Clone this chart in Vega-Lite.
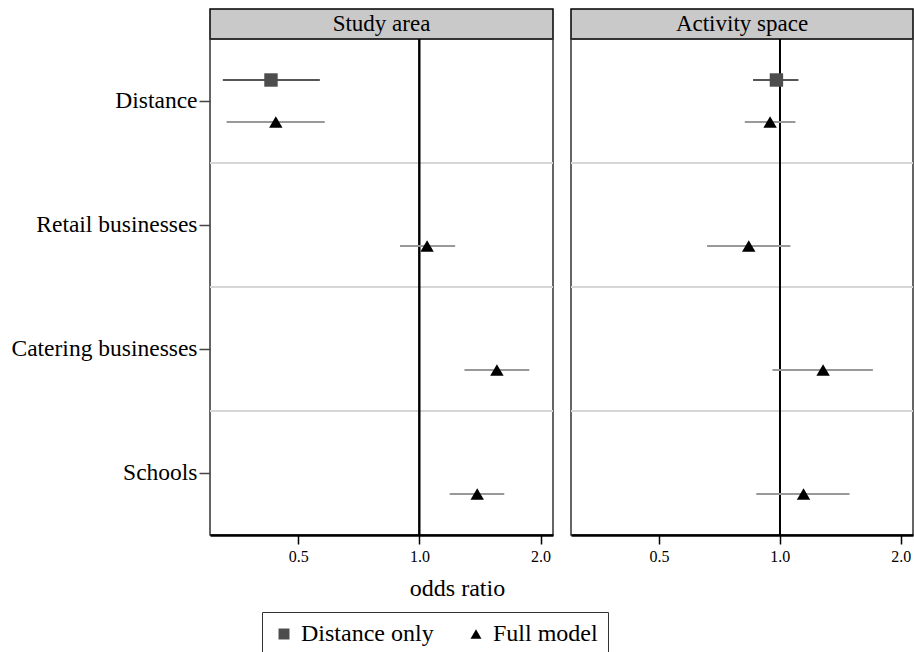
{
  "$schema": "https://vega.github.io/schema/vega-lite/v6.json",
  "background": "white",
  "padding": {"left": 10, "top": 8, "right": 0, "bottom": 0},
  "config": {
    "font": "Liberation Serif, Tinos, Times New Roman, serif",
    "view": {"stroke": "#333333", "strokeWidth": 1.5},
    "axis": {"labelFont": "Liberation Serif, Tinos, Times New Roman, serif", "titleFont": "Liberation Serif, Tinos, Times New Roman, serif", "labelColor": "black", "titleColor": "black"},
    "legend": {"labelFont": "Liberation Serif, Tinos, Times New Roman, serif"},
    "text": {"font": "Liberation Serif, Tinos, Times New Roman, serif"}
  },
  "datasets": {
    "est": [
      {"panel": "Study area", "cat": "Distance", "model": "Distance only", "or": 0.428, "lo": 0.325, "hi": 0.566},
      {"panel": "Study area", "cat": "Distance", "model": "Full model", "or": 0.44, "lo": 0.332, "hi": 0.582},
      {"panel": "Study area", "cat": "Retail businesses", "model": "Full model", "or": 1.045, "lo": 0.895, "hi": 1.227},
      {"panel": "Study area", "cat": "Catering businesses", "model": "Full model", "or": 1.558, "lo": 1.294, "hi": 1.875},
      {"panel": "Study area", "cat": "Schools", "model": "Full model", "or": 1.392, "lo": 1.189, "hi": 1.625},
      {"panel": "Activity space", "cat": "Distance", "model": "Distance only", "or": 0.981, "lo": 0.858, "hi": 1.113},
      {"panel": "Activity space", "cat": "Distance", "model": "Full model", "or": 0.946, "lo": 0.818, "hi": 1.094},
      {"panel": "Activity space", "cat": "Retail businesses", "model": "Full model", "or": 0.837, "lo": 0.659, "hi": 1.063},
      {"panel": "Activity space", "cat": "Catering businesses", "model": "Full model", "or": 1.282, "lo": 0.959, "hi": 1.706},
      {"panel": "Activity space", "cat": "Schools", "model": "Full model", "or": 1.146, "lo": 0.874, "hi": 1.492}
    ],
    "sep": [
      {"cat": "Retail businesses"},
      {"cat": "Catering businesses"},
      {"cat": "Schools"}
    ],
    "panels": [
      {"panel": "Study area"},
      {"panel": "Activity space"}
    ]
  },
  "columns": 2,
  "bounds": "flush",
  "spacing": {"row": 0, "column": 18},
  "resolve": {"scale": {"color": "shared", "shape": "shared"}},
  "concat": [
    {
      "width": 343, "height": 30,
      "view": {"fill": "#c9c9c9", "stroke": "black", "strokeWidth": 1.5},
      "data": {"name": "panels"},
      "transform": [{"filter": "datum.panel === 'Study area'"}],
      "mark": {"type": "text", "fontSize": 23, "color": "black", "font": "Liberation Serif, Tinos, Times New Roman, serif"},
      "encoding": {"text": {"field": "panel", "type": "nominal"}}
    },
    {
      "width": 342, "height": 30,
      "view": {"fill": "#c9c9c9", "stroke": "black", "strokeWidth": 1.5},
      "data": {"name": "panels"},
      "transform": [{"filter": "datum.panel === 'Activity space'"}],
      "mark": {"type": "text", "fontSize": 23, "color": "black", "font": "Liberation Serif, Tinos, Times New Roman, serif"},
      "encoding": {"text": {"field": "panel", "type": "nominal"}}
    },
    {
      "width": 343, "height": 496,
      "data": {"name": "est"},
      "transform": [{"filter": "datum.panel === 'Study area'"}],
      "layer": [
        {
          "data": {"name": "sep"},
          "transform": [],
          "mark": {"type": "rule", "color": "#d6d6d6", "strokeWidth": 2},
          "encoding": {"y": {"field": "cat", "type": "nominal", "bandPosition": 0, "scale": {"domain": ["Distance", "Retail businesses", "Catering businesses", "Schools"], "paddingInner": 0, "paddingOuter": 0},
            "axis": {"title": null, "labelFont": "Liberation Serif, Tinos, Times New Roman, serif", "labelFontSize": 23.5, "labelLimit": 400, "tickSize": 11, "tickColor": "#444", "tickWidth": 1.5, "labelPadding": 2, "domain": false, "grid": false, "bandPosition": 0.5}}}
        },
        {
          "mark": {"type": "rule", "color": "black", "strokeWidth": 1.5},
          "encoding": {"x": {"datum": 1, "type": "quantitative", "scale": {"type": "log", "domain": [0.302, 2.147], "nice": false, "zero": false},
            "axis": {"values": [0.5, 1, 2], "format": ".1f", "labelFont": "Liberation Serif, Tinos, Times New Roman, serif", "labelFontSize": 16, "tickSize": 9, "tickColor": "black", "tickWidth": 1.5, "domainColor": "black", "domainWidth": 2.5, "labelPadding": 4, "grid": false,
              "title": "odds ratio", "titleFont": "Liberation Serif, Tinos, Times New Roman, serif", "titleFontSize": 24, "titleFontWeight": "normal", "titlePadding": 12, "titleX": 247}}}
        },
        {
          "mark": {"type": "rule", "strokeWidth": 2},
          "encoding": {
            "x": {"field": "lo", "type": "quantitative"},
            "x2": {"field": "hi"},
            "y": {"field": "cat", "type": "nominal"},
            "yOffset": {"field": "model", "type": "nominal", "scale": {"type": "point", "domain": ["Distance only", "Full model"], "range": [41, 83], "padding": 0}},
            "color": {"condition": {"test": "datum.model === 'Full model'", "value": "#999999"}, "value": "#555555"}
          }
        },
        {
          "mark": {"type": "point", "filled": true, "opacity": 1, "size": 180},
          "encoding": {
            "x": {"field": "or", "type": "quantitative"},
            "y": {"field": "cat", "type": "nominal"},
            "yOffset": {"field": "model", "type": "nominal"},
            "shape": {"field": "model", "type": "nominal", "scale": {"domain": ["Distance only", "Full model"], "range": ["square", "triangle-up"]},
              "legend": {"title": null, "orient": "none", "legendX": 52, "legendY": 603, "direction": "horizontal", "columns": 2, "gridAlign": "all",
                "strokeColor": "#333", "padding": 10, "labelFont": "Liberation Serif, Tinos, Times New Roman, serif", "labelFontSize": 24, "labelColor": "black", "labelOffset": 5, "columnPadding": 30, "symbolSize": 120, "symbolStrokeWidth": 0}},
            "color": {"field": "model", "type": "nominal", "scale": {"domain": ["Distance only", "Full model"], "range": ["#4d4d4d", "#000000"]}}
          }
        }
      ]
    },
    {
      "width": 342, "height": 496,
      "data": {"name": "est"},
      "transform": [{"filter": "datum.panel === 'Activity space'"}],
      "layer": [
        {
          "data": {"name": "sep"},
          "transform": [],
          "mark": {"type": "rule", "color": "#d6d6d6", "strokeWidth": 2},
          "encoding": {"y": {"field": "cat", "type": "nominal", "bandPosition": 0, "scale": {"domain": ["Distance", "Retail businesses", "Catering businesses", "Schools"], "paddingInner": 0, "paddingOuter": 0}, "axis": null}}
        },
        {
          "mark": {"type": "rule", "color": "black", "strokeWidth": 1.5},
          "encoding": {"x": {"datum": 1, "type": "quantitative", "scale": {"type": "log", "domain": [0.302, 2.147], "nice": false, "zero": false},
            "axis": {"values": [0.5, 1, 2], "format": ".1f", "labelFont": "Liberation Serif, Tinos, Times New Roman, serif", "labelFontSize": 16, "tickSize": 9, "tickColor": "black", "tickWidth": 1.5, "domainColor": "black", "domainWidth": 2.5, "labelPadding": 4, "grid": false, "title": null}}}
        },
        {
          "mark": {"type": "rule", "strokeWidth": 2},
          "encoding": {
            "x": {"field": "lo", "type": "quantitative"},
            "x2": {"field": "hi"},
            "y": {"field": "cat", "type": "nominal"},
            "yOffset": {"field": "model", "type": "nominal", "scale": {"type": "point", "domain": ["Distance only", "Full model"], "range": [41, 83], "padding": 0}},
            "color": {"condition": {"test": "datum.model === 'Full model'", "value": "#999999"}, "value": "#555555"}
          }
        },
        {
          "mark": {"type": "point", "filled": true, "opacity": 1, "size": 180},
          "encoding": {
            "x": {"field": "or", "type": "quantitative"},
            "y": {"field": "cat", "type": "nominal"},
            "yOffset": {"field": "model", "type": "nominal"},
            "shape": {"field": "model", "type": "nominal"},
            "color": {"field": "model", "type": "nominal"}
          }
        }
      ]
    }
  ]
}
